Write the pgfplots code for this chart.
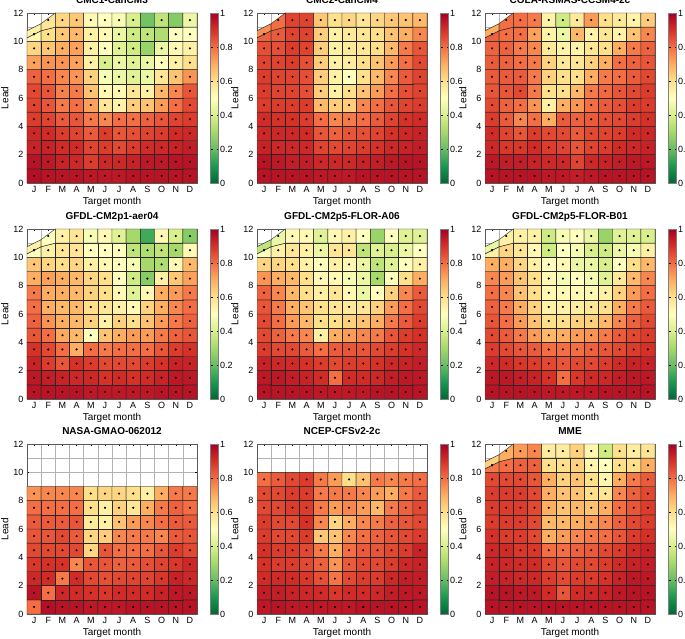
\documentclass[border=0pt]{standalone}
\usepackage{pgfplots}
\pgfplotsset{compat=1.18}
\usepackage{pgfplotstable}
\usepackage{fontspec}
\setmainfont{Liberation Sans}
\pgfkeys{/pgf/number format/assume math mode=true}

\pgfplotsset{
  colormap={rdylgn}{rgb255=(0,104,55) rgb255=(26,152,80) rgb255=(102,189,99) rgb255=(166,217,106)
    rgb255=(217,239,139) rgb255=(255,255,191) rgb255=(254,224,139) rgb255=(253,174,97)
    rgb255=(244,109,67) rgb255=(215,48,39) rgb255=(165,0,38)},
  panel/.style={
    scale only axis, width=170pt, height=170pt,
    anchor=south west,
    xmin=0.5, xmax=12.5, ymin=0, ymax=12, enlargelimits=false,
    xtick={1,...,12}, xticklabels={J,F,M,A,M,J,J,A,S,O,N,D},
    ytick={0,2,...,12},
    minor xtick={0.5,1.5,...,12.5}, minor ytick={0,1,...,12},
    grid=minor, minor grid style={gray!60, line width=0.4pt},
    minor tick length=0pt, major tick length=2pt, tick align=inside,
    tick style={black},
    axis line style={gray!70!black},
    colormap name=rdylgn,
    point meta min=0, point meta max=1,
    colorbar,
    colorbar style={width=8pt, at={(parent axis.north east)}, anchor=north west, xshift=5pt,
      ytick={0,0.2,0.4,0.6,0.8,1}, major tick length=2pt,
      yticklabel style={font=\fontsize{9}{10}\selectfont, /pgf/number format/fixed, inner sep=1.5pt},
      axis line style={gray}},
    xlabel={Target month}, ylabel={Lead},
    xlabel style={font=\fontsize{10}{12}\selectfont, yshift=3pt},
    ylabel style={font=\fontsize{10}{12}\selectfont, yshift=-2pt},
    title style={font=\bfseries\fontsize{10}{12}\selectfont, at={(0.5,1)}, anchor=base, yshift=3pt, inner sep=0pt},
    tick label style={font=\fontsize{9}{10}\selectfont},
  },
  cells/.style={matrix plot*, mesh/cols=12, point meta=explicit,
    shader=faceted, faceted color=black!85, line width=0.4pt, restrict y to domain=0:12},
  dots/.style={only marks, mark=*, mark size=0.85pt, black, restrict y to domain=0:12},
}
\newcommand{\heat}[1]{%
  \addplot[cells] table[x index=0, y index=0, meta index=0, x expr={mod(\coordindex,12)+1}, y expr={floor(\coordindex/12)+0.5}, meta expr={abs(\thisrowno{0})}] {#1};
  \addplot[dots] table[x index=0, y index=0, x expr={mod(\coordindex,12)+1}, y expr={floor(\coordindex/12)+0.5+100*(\thisrowno{0}<0)}] {#1};
}

% rows = lead 0 ... 11 ; columns = J ... D ; negative = no significance dot
\pgfplotstableread[header=false,row sep=\\]{
0.97\\0.96\\0.96\\0.96\\0.95\\0.95\\0.95\\0.96\\0.96\\0.96\\0.96\\0.96\\
0.96\\0.95\\0.93\\0.92\\0.88\\0.92\\0.92\\0.93\\0.95\\0.95\\0.96\\0.96\\
0.93\\0.93\\0.91\\0.91\\0.87\\0.88\\0.86\\0.88\\0.91\\0.92\\0.93\\0.94\\
0.92\\0.91\\0.88\\0.87\\0.83\\0.88\\0.84\\0.85\\0.87\\0.88\\0.91\\0.92\\
0.88\\0.87\\0.83\\0.84\\0.78\\0.76\\0.80\\0.80\\0.82\\0.84\\0.87\\0.88\\
0.87\\0.84\\0.78\\0.80\\0.72\\0.58\\0.54\\0.64\\0.66\\0.73\\0.80\\0.86\\
0.86\\0.84\\0.77\\0.78\\0.66\\0.52\\0.52\\0.58\\0.55\\0.68\\0.76\\0.84\\
0.82\\0.80\\0.76\\0.74\\0.63\\0.48\\0.45\\0.42\\0.45\\0.58\\0.66\\0.74\\
0.72\\0.74\\0.74\\0.72\\0.55\\0.40\\0.45\\0.42\\0.45\\0.50\\0.55\\0.60\\
0.62\\0.65\\0.70\\0.72\\0.55\\0.50\\0.42\\0.38\\-0.28\\0.45\\0.52\\0.55\\
0.52\\0.60\\0.65\\0.68\\0.55\\0.52\\0.45\\0.38\\0.35\\-0.32\\0.50\\0.50\\
0.55\\0.58\\0.62\\0.65\\0.52\\0.50\\0.48\\0.40\\-0.22\\0.35\\-0.25\\0.45\\
}\tA
\pgfplotstableread[header=false,row sep=\\]{
0.96\\0.96\\0.96\\0.96\\0.95\\0.95\\0.95\\0.96\\0.96\\0.96\\0.96\\0.96\\
0.96\\0.95\\0.94\\0.94\\0.92\\0.92\\0.92\\0.93\\0.94\\0.95\\0.96\\0.96\\
0.93\\0.92\\0.92\\0.92\\0.87\\0.86\\0.87\\0.88\\0.90\\0.92\\0.93\\0.94\\
0.92\\0.92\\0.92\\0.91\\0.84\\0.82\\0.84\\0.85\\0.87\\0.90\\0.92\\0.93\\
0.91\\0.90\\0.90\\0.88\\0.80\\0.76\\0.78\\0.80\\0.83\\0.87\\0.90\\0.91\\
0.88\\0.88\\0.88\\0.88\\0.68\\0.64\\0.64\\0.76\\0.80\\0.84\\0.87\\0.88\\
0.88\\0.87\\0.87\\0.85\\0.64\\0.55\\0.60\\0.66\\0.73\\0.80\\0.85\\0.87\\
0.88\\0.87\\0.87\\0.85\\0.64\\0.55\\0.50\\0.60\\0.68\\0.76\\0.83\\0.87\\
0.87\\0.87\\0.88\\0.85\\0.64\\0.55\\0.56\\0.60\\0.66\\0.73\\0.80\\0.86\\
0.85\\0.85\\0.88\\0.87\\0.64\\0.55\\0.57\\0.58\\0.60\\0.68\\0.78\\0.84\\
0.82\\0.83\\0.87\\0.87\\0.64\\0.55\\0.57\\0.58\\0.60\\0.66\\0.70\\0.76\\
0.75\\0.80\\0.87\\0.87\\0.65\\0.60\\0.62\\0.58\\0.62\\0.65\\0.66\\0.68\\
}\tB
\pgfplotstableread[header=false,row sep=\\]{
0.96\\0.96\\0.96\\0.96\\0.95\\0.95\\0.94\\0.95\\0.96\\0.96\\0.96\\0.96\\
0.95\\0.94\\0.94\\0.93\\0.92\\0.92\\0.87\\0.92\\0.93\\0.94\\0.95\\0.95\\
0.92\\0.89\\0.89\\0.91\\0.88\\0.87\\0.84\\0.87\\0.88\\0.91\\0.92\\0.93\\
0.91\\0.87\\0.84\\0.88\\0.86\\0.86\\0.83\\0.86\\0.87\\0.88\\0.91\\0.92\\
0.88\\0.83\\0.76\\0.80\\0.70\\0.83\\0.82\\0.83\\0.85\\0.86\\0.88\\0.90\\
0.86\\0.82\\0.80\\0.74\\0.55\\0.70\\0.74\\0.80\\0.83\\0.85\\0.88\\0.88\\
0.84\\0.84\\0.86\\0.78\\0.60\\0.60\\0.68\\0.78\\0.81\\0.84\\0.86\\0.88\\
0.83\\0.83\\0.83\\0.78\\0.63\\0.60\\0.60\\0.70\\0.78\\0.80\\0.83\\0.86\\
0.83\\0.82\\0.80\\0.78\\0.63\\0.57\\0.58\\0.63\\0.70\\0.80\\0.82\\0.84\\
0.82\\0.82\\0.78\\0.76\\0.57\\0.54\\0.54\\0.58\\0.60\\0.70\\0.78\\0.82\\
0.82\\0.80\\0.80\\0.72\\0.54\\0.45\\0.68\\0.54\\0.58\\0.54\\0.66\\0.76\\
0.70\\0.80\\0.80\\0.78\\0.54\\0.38\\0.57\\0.73\\0.60\\0.57\\0.54\\0.64\\
}\tC
\pgfplotstableread[header=false,row sep=\\]{
0.96\\0.96\\0.96\\0.96\\0.95\\0.95\\0.95\\0.95\\0.95\\0.96\\0.96\\0.96\\
0.95\\0.94\\0.93\\0.92\\0.92\\0.90\\0.91\\0.90\\0.91\\0.93\\0.95\\0.95\\
0.93\\0.88\\0.84\\0.90\\0.88\\0.86\\0.86\\0.86\\0.88\\0.90\\0.93\\0.93\\
0.90\\0.86\\0.80\\0.70\\0.80\\0.78\\0.80\\0.80\\0.80\\0.84\\0.88\\0.90\\
0.84\\0.80\\0.71\\0.68\\0.50\\0.66\\0.70\\0.73\\0.73\\0.78\\0.82\\0.84\\
0.82\\0.74\\0.70\\0.68\\0.63\\0.55\\0.63\\0.60\\0.66\\0.73\\0.78\\0.82\\
0.80\\0.70\\0.68\\0.68\\0.60\\0.58\\0.55\\0.52\\0.63\\0.70\\0.76\\0.80\\
0.78\\0.70\\0.70\\0.68\\0.63\\0.60\\0.52\\0.42\\0.52\\0.70\\0.73\\0.78\\
0.70\\0.72\\0.70\\0.68\\0.62\\0.60\\0.50\\0.38\\0.25\\0.55\\0.65\\0.72\\
0.65\\0.62\\0.60\\0.62\\0.55\\0.52\\0.50\\0.48\\-0.30\\0.32\\0.52\\0.68\\
0.50\\0.55\\0.58\\0.58\\0.50\\0.50\\0.50\\0.35\\0.32\\0.35\\0.30\\0.52\\
0.55\\0.50\\0.55\\0.58\\0.48\\0.52\\0.42\\-0.30\\-0.15\\0.52\\0.40\\0.25\\
}\tD
\pgfplotstableread[header=false,row sep=\\]{
0.96\\0.96\\0.96\\0.96\\0.95\\0.95\\0.95\\0.95\\0.96\\0.96\\0.96\\0.96\\
0.95\\0.95\\0.94\\0.93\\0.91\\0.80\\0.91\\0.91\\0.92\\0.94\\0.95\\0.95\\
0.93\\0.92\\0.91\\0.90\\0.88\\0.86\\0.88\\0.88\\0.90\\0.92\\0.93\\0.94\\
0.88\\0.86\\0.86\\0.83\\0.80\\0.83\\0.84\\0.84\\0.86\\0.88\\0.90\\0.92\\
0.86\\0.82\\0.78\\0.76\\0.55\\0.70\\0.73\\0.76\\0.78\\0.84\\0.88\\0.90\\
0.86\\0.80\\0.73\\0.68\\0.60\\0.60\\0.63\\0.66\\0.70\\0.78\\0.83\\0.88\\
0.84\\0.78\\0.70\\0.66\\0.60\\0.58\\0.57\\0.58\\0.63\\0.73\\0.80\\0.86\\
0.82\\0.76\\0.68\\0.60\\0.55\\0.58\\0.52\\0.45\\0.50\\0.63\\0.76\\0.83\\
0.74\\0.70\\0.68\\0.60\\0.52\\0.52\\0.48\\0.45\\0.30\\0.50\\0.60\\0.70\\
0.62\\0.62\\0.60\\0.55\\0.50\\0.55\\0.52\\0.45\\0.35\\0.42\\0.50\\0.55\\
0.50\\0.55\\0.58\\0.55\\0.45\\0.58\\0.58\\0.35\\0.42\\0.40\\0.45\\0.50\\
0.35\\0.45\\0.52\\0.52\\0.42\\0.52\\0.55\\0.50\\-0.28\\0.50\\0.42\\0.42\\
}\tE
\pgfplotstableread[header=false,row sep=\\]{
0.96\\0.96\\0.96\\0.96\\0.95\\0.95\\0.95\\0.95\\0.96\\0.96\\0.96\\0.96\\
0.95\\0.95\\0.94\\0.93\\0.90\\0.80\\0.89\\0.91\\0.92\\0.94\\0.95\\0.95\\
0.92\\0.91\\0.89\\0.88\\0.86\\0.84\\0.86\\0.86\\0.88\\0.91\\0.93\\0.93\\
0.88\\0.86\\0.84\\0.83\\0.80\\0.80\\0.80\\0.82\\0.84\\0.86\\0.88\\0.90\\
0.86\\0.83\\0.78\\0.73\\0.68\\0.70\\0.73\\0.74\\0.78\\0.83\\0.86\\0.88\\
0.84\\0.80\\0.73\\0.66\\0.60\\0.60\\0.63\\0.63\\0.68\\0.76\\0.82\\0.86\\
0.82\\0.78\\0.70\\0.63\\0.55\\0.55\\0.56\\0.58\\0.60\\0.70\\0.78\\0.83\\
0.80\\0.76\\0.66\\0.60\\0.52\\0.52\\0.52\\0.52\\0.55\\0.63\\0.73\\0.80\\
0.76\\0.73\\0.66\\0.60\\0.52\\0.48\\0.50\\0.48\\0.42\\0.57\\0.68\\0.76\\
0.70\\0.70\\0.62\\0.55\\0.50\\0.52\\0.45\\0.45\\0.40\\0.50\\0.60\\0.68\\
0.55\\0.62\\0.58\\0.52\\0.38\\0.50\\0.48\\0.40\\0.38\\0.45\\0.48\\0.55\\
0.45\\0.55\\0.55\\0.55\\0.38\\0.48\\0.50\\0.45\\-0.28\\0.42\\0.42\\0.40\\
}\tF
\pgfplotstableread[header=false,row sep=\\]{
0.80\\0.97\\0.96\\0.96\\0.95\\0.95\\0.95\\0.96\\0.96\\0.96\\0.96\\0.96\\
0.96\\0.80\\0.92\\0.91\\0.90\\0.89\\0.91\\0.91\\0.91\\0.93\\0.95\\0.95\\
0.92\\0.91\\0.78\\0.91\\0.86\\0.85\\0.86\\0.87\\0.87\\0.89\\0.93\\0.92\\
0.89\\0.90\\0.90\\0.76\\0.84\\0.84\\0.82\\0.83\\0.85\\0.87\\0.89\\0.92\\
0.86\\0.86\\0.86\\0.86\\0.62\\0.84\\0.80\\0.80\\0.80\\0.84\\0.88\\0.86\\
0.84\\0.84\\0.86\\0.83\\0.62\\0.64\\0.76\\0.78\\0.78\\0.76\\0.83\\0.84\\
0.83\\0.83\\0.83\\0.84\\0.57\\0.55\\0.66\\0.73\\0.76\\0.80\\0.83\\0.83\\
0.80\\0.80\\0.80\\0.80\\0.60\\0.55\\0.63\\0.58\\0.70\\0.78\\0.82\\0.80\\
0.74\\0.76\\0.76\\0.76\\0.60\\0.62\\0.62\\0.60\\0.55\\0.70\\0.78\\0.78\\
}\tG
\pgfplotstableread[header=false,row sep=\\]{
0.95\\0.96\\0.95\\0.95\\0.95\\0.95\\0.95\\0.96\\0.96\\0.96\\0.96\\0.96\\
0.94\\0.94\\0.93\\0.92\\0.91\\0.89\\0.91\\0.91\\0.92\\0.94\\0.95\\0.95\\
0.91\\0.91\\0.91\\0.89\\0.85\\0.79\\0.86\\0.88\\0.88\\0.92\\0.94\\0.94\\
0.90\\0.88\\0.88\\0.86\\0.82\\0.74\\0.83\\0.86\\0.86\\0.88\\0.92\\0.93\\
0.90\\0.88\\0.88\\0.86\\0.78\\0.70\\0.80\\0.83\\0.84\\0.86\\0.88\\0.93\\
0.88\\0.86\\0.86\\0.88\\0.65\\0.66\\0.76\\0.80\\0.82\\0.84\\0.86\\0.88\\
0.88\\0.86\\0.86\\0.90\\0.76\\0.62\\0.70\\0.76\\0.78\\0.82\\0.84\\0.86\\
0.86\\0.86\\0.88\\0.88\\0.78\\0.73\\0.76\\0.73\\0.68\\0.78\\0.82\\0.86\\
0.86\\0.86\\0.88\\0.88\\0.78\\0.78\\0.78\\0.76\\0.73\\0.70\\0.78\\0.83\\
0.80\\0.83\\0.86\\0.88\\0.78\\0.73\\0.60\\0.66\\0.78\\0.76\\0.78\\0.80\\
}\tH
\pgfplotstableread[header=false,row sep=\\]{
0.96\\0.96\\0.96\\0.96\\0.96\\0.96\\0.96\\0.96\\0.96\\0.96\\0.96\\0.96\\
0.96\\0.96\\0.95\\0.95\\0.91\\0.84\\0.91\\0.92\\0.93\\0.95\\0.96\\0.96\\
0.94\\0.93\\0.92\\0.92\\0.88\\0.86\\0.88\\0.88\\0.90\\0.93\\0.95\\0.95\\
0.93\\0.92\\0.91\\0.91\\0.86\\0.84\\0.86\\0.86\\0.88\\0.91\\0.93\\0.94\\
0.92\\0.91\\0.89\\0.89\\0.80\\0.80\\0.82\\0.83\\0.86\\0.88\\0.91\\0.93\\
0.90\\0.88\\0.88\\0.86\\0.70\\0.73\\0.76\\0.78\\0.80\\0.84\\0.88\\0.90\\
0.88\\0.88\\0.88\\0.86\\0.68\\0.68\\0.70\\0.73\\0.76\\0.82\\0.86\\0.88\\
0.88\\0.88\\0.88\\0.86\\0.70\\0.66\\0.68\\0.66\\0.70\\0.80\\0.84\\0.88\\
0.88\\0.88\\0.88\\0.86\\0.70\\0.66\\0.66\\0.60\\0.58\\0.76\\0.82\\0.86\\
0.86\\0.86\\0.86\\0.84\\0.70\\0.63\\0.66\\0.60\\0.53\\0.70\\0.78\\0.83\\
0.78\\0.80\\0.82\\0.82\\0.60\\0.60\\0.63\\0.53\\0.50\\0.60\\0.60\\0.70\\
0.63\\0.70\\0.73\\0.76\\0.56\\0.56\\0.63\\0.53\\0.38\\0.60\\0.56\\0.58\\
}\tI

\begin{document}
\begin{tikzpicture}
\useasboundingbox (0,0) rectangle (685pt,639pt);
\begin{axis}[panel, at={(27pt,456pt)}, title={CMC1-CanCM3}] \heat{\tA} \end{axis}
\begin{axis}[panel, at={(257pt,456pt)}, title={CMC2-CanCM4}] \heat{\tB} \end{axis}
\begin{axis}[panel, at={(485pt,456pt)}, title={COLA-RSMAS-CCSM4-2c}] \heat{\tC} \end{axis}
\begin{axis}[panel, at={(27pt,240pt)}, title={GFDL-CM2p1-aer04}] \heat{\tD} \end{axis}
\begin{axis}[panel, at={(257pt,240pt)}, title={GFDL-CM2p5-FLOR-A06}] \heat{\tE} \end{axis}
\begin{axis}[panel, at={(485pt,240pt)}, title={GFDL-CM2p5-FLOR-B01}] \heat{\tF} \end{axis}
\begin{axis}[panel, at={(27pt,25pt)}, title={NASA-GMAO-062012}] \heat{\tG} \end{axis}
\begin{axis}[panel, at={(257pt,25pt)}, title={NCEP-CFSv2-2c}] \heat{\tH} \end{axis}
\begin{axis}[panel, at={(485pt,25pt)}, title={MME}] \heat{\tI} \end{axis}
\end{tikzpicture}
\end{document}
